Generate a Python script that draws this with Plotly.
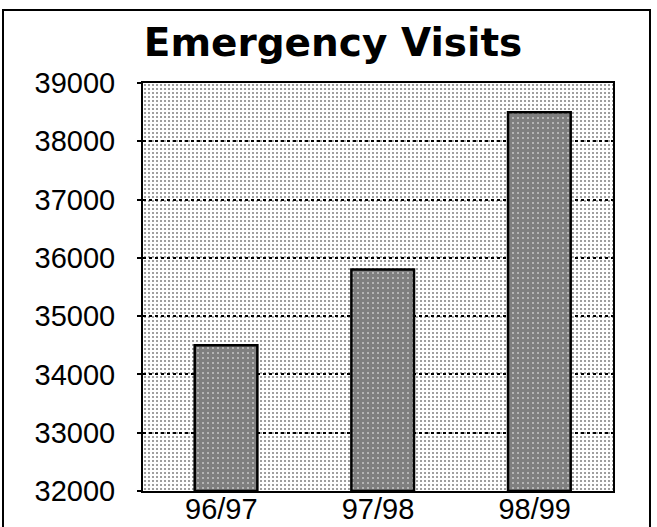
import plotly.graph_objects as go

# data
years = ['96/97', '97/98', '98/99']
visits = [34500, 35800, 38500]
y_min, y_max = 32000, 39000
y_ticks = [32000, 33000, 34000, 35000, 36000, 37000, 38000, 39000]

W, H = 657, 527
L, R, T, B = 143, 44, 83, 36
pw, ph = W - L - R, H - T - B

fig = go.Figure()

# stippled plot background (full-height bars behind the data)
fig.add_trace(go.Bar(
    x=years,
    y=[y_max - y_min] * len(years),
    base=y_min,
    width=1,
    marker=dict(
        color='rgba(0,0,0,0)',
        line=dict(width=0),
        pattern=dict(shape='.', fgcolor='black', size=4, solidity=0.2),
    ),
    hoverinfo='skip',
    showlegend=False,
))

# actual data bars
fig.add_trace(go.Bar(
    x=years,
    y=[v - y_min for v in visits],
    base=y_min,
    width=0.4,
    offset=-0.2 + 0.03,
    marker=dict(
        color='white',
        line=dict(color='black', width=2.5),
        pattern=dict(shape='.', fgcolor='black', bgcolor='white', size=5, solidity=0.85),
    ),
    showlegend=False,
))

fig.update_layout(
    width=W, height=H,
    margin=dict(l=L, r=R, t=T, b=B, autoexpand=False),
    paper_bgcolor='white',
    plot_bgcolor='white',
    barmode='overlay',
    font=dict(family='Liberation Sans, Arial', color='black', size=29),
    title=dict(
        text='<b>Emergency Visits</b>',
        font=dict(family='DejaVu Sans', size=39, color='black'),
        xref='paper', x=(333 - L) / pw, xanchor='center',
        yref='container', y=1 - 42 / H, yanchor='middle',
    ),
    xaxis=dict(
        type='category',
        automargin=False,
        showgrid=False,
        showline=True, linecolor='black', linewidth=2, mirror=True,
        ticks='', tickfont=dict(size=29),
        ticklabelstandoff=-9,
        range=[-0.5, 2.5],
    ),
    yaxis=dict(
        automargin=False,
        range=[y_min, y_max],
        tickvals=y_ticks,
        ticktext=[str(t) for t in y_ticks],
        showgrid=True, gridcolor='black', gridwidth=1.5, griddash='dot',
        showline=True, linecolor='black', linewidth=2, mirror=True,
        ticks='outside', ticklen=4, tickcolor='black', tickwidth=1.5,
        tickfont=dict(size=29),
        ticklabelstandoff=16,
        zeroline=False,
    ),
    # outer frame around the whole figure
    shapes=[dict(
        type='rect', xref='paper', yref='paper',
        x0=(3 - L) / pw, x1=(650 - L) / pw,
        y0=(H - B - 540) / ph, y1=(H - B - 10) / ph,
        line=dict(color='black', width=2),
    )],
)

# drop the default 8px page margin so the figure fills the window exactly
fig.write_html(
    "out.html",
    config={'displayModeBar': False},
    post_script="document.body.style.margin='0';",
)
